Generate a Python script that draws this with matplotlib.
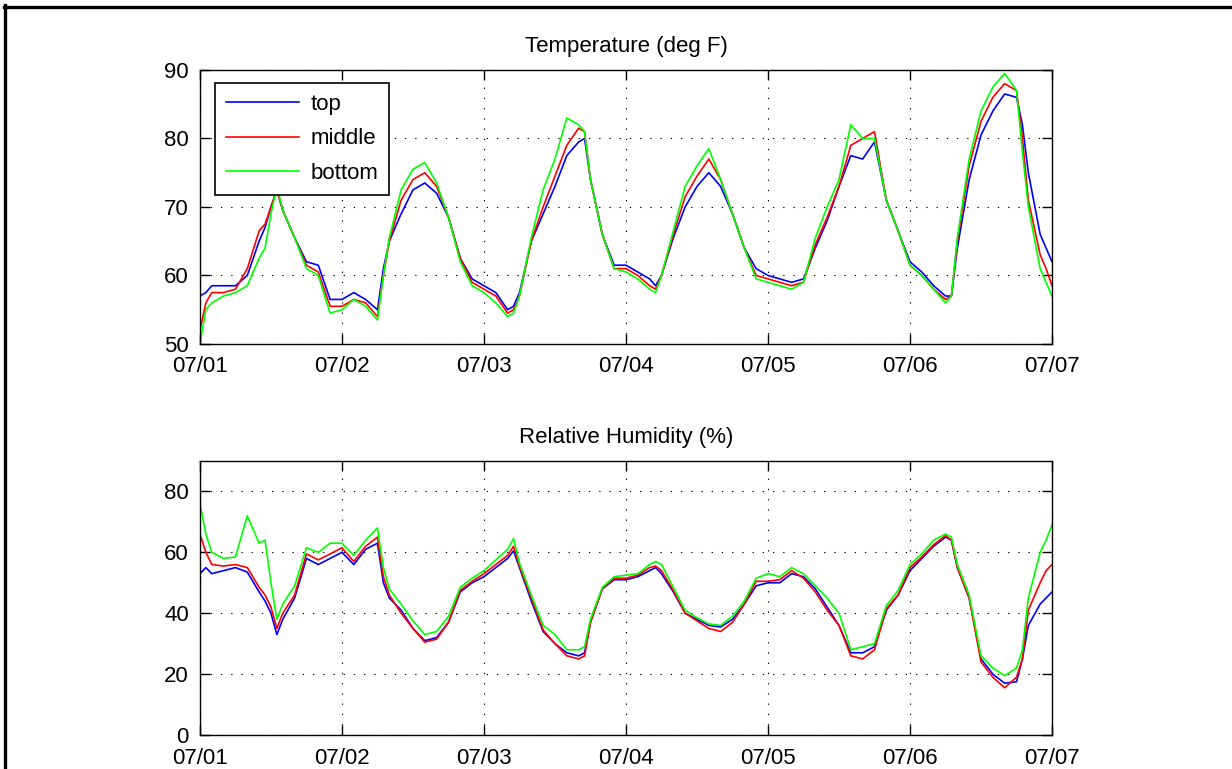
import numpy as np
import matplotlib
matplotlib.use("Agg")
import matplotlib.pyplot as plt
from matplotlib.lines import Line2D

plt.rcParams['font.family'] = ['Liberation Sans', 'DejaVu Sans']

# hours since 07/01 00:00 (shared by every series)
hours = [0, 1, 2, 4, 6, 8, 10, 11, 12, 13, 14, 16, 18, 20, 22,
         24, 26, 28, 30, 31, 32, 34, 36, 38, 40, 42, 44, 46,
         48, 50, 52, 53, 54, 56, 58, 60, 62, 64, 65, 66, 68, 70,
         72, 74, 76, 77, 78, 80, 82, 84, 86, 88, 90, 92, 94,
         96, 98, 100, 102, 104, 106, 108, 110, 112, 114, 116, 118,
         120, 122, 124, 126, 127, 128, 130, 132, 134, 136, 138, 139, 140, 142, 143, 144]

day_labels = ['07/01', '07/02', '07/03', '07/04', '07/05', '07/06', '07/07']
series_names = ['top', 'middle', 'bottom']

# temperature (deg F)
temp_top = [57, 57.5, 58.5, 58.5, 58.5, 60, 65, 67, 70, 72.5, 69.5, 65.5, 62, 61.5, 56.5,
            56.5, 57.5, 56.5, 55, 61, 65, 69, 72.5, 73.5, 72, 68.5, 62.5, 59.5,
            58.5, 57.5, 55, 55.5, 57.5, 65, 69, 73, 77.5, 79.5, 80, 74, 66, 61.5,
            61.5, 60.5, 59.5, 58.5, 60, 65.5, 70, 73, 75, 73, 69, 64, 61,
            60, 59.5, 59, 59.5, 64, 68, 73, 77.5, 77, 79.5, 71, 66.5,
            62, 60.5, 58.5, 57, 57, 64, 74, 80.5, 84, 86.5, 86, 82, 75, 66, 64, 62]
temp_mid = [52, 56, 57.5, 57.5, 58, 61, 66.5, 67.5, 70, 72.5, 69.5, 65.5, 61.5, 60.5, 55.5,
            55.5, 56.5, 56, 54, 60, 65, 71, 74, 75, 73, 68.5, 62.5, 59,
            58, 57, 54.5, 55, 57, 65, 70, 74.5, 79, 81.5, 81, 74, 66, 61,
            61, 60, 58.5, 58, 60, 66, 71.5, 74.5, 77, 74, 69, 64, 60,
            59.5, 59, 58.5, 59, 64.5, 68.5, 73, 79, 80, 81, 71, 66.5,
            61.5, 60, 58, 56.5, 57, 65, 76, 82.5, 86, 88, 87, 80, 71, 63, 61, 58.5]
temp_bot = [50, 55, 56, 57, 57.5, 58.5, 62.5, 64, 69, 73, 69.5, 65.5, 61, 60, 54.5,
            55, 56.5, 55.5, 53.5, 60, 65.5, 72.5, 75.5, 76.5, 73.5, 68.5, 62, 58.5,
            57.5, 56, 54, 54.5, 57, 65.5, 72.5, 77, 83, 82, 81, 74, 66, 61,
            60.5, 59.5, 58, 57.5, 60, 66.5, 73, 76, 78.5, 74, 69, 64, 59.5,
            59, 58.5, 58, 59, 65.5, 70, 74, 82, 80, 80, 71, 66.5,
            61.5, 60, 58, 56, 57, 65.5, 77, 84, 87.5, 89.5, 87, 78, 70, 61, 59, 57]

# relative humidity (%)
rh_top = [53, 55, 53, 54, 55, 53.5, 47, 44, 40, 33, 38, 45, 58, 56, 58,
          60, 56, 61, 63, 50, 45, 41, 35, 31, 32, 37, 47, 50,
          52, 55, 58, 60.5, 55, 44, 34, 30, 27, 26, 27, 37, 48, 51,
          51, 52, 54, 55, 53, 47, 40, 38, 36, 35.5, 38, 43, 49,
          50, 50, 53, 52, 48, 42, 36, 27, 27, 29, 41, 46,
          54, 58, 62, 65, 64, 55, 45, 25, 20, 17, 17.5, 25, 36, 43, 45, 47]
rh_mid = [66, 60, 56, 55.5, 56, 55, 48.5, 46, 42, 35, 40, 46, 59.5, 57.5, 59.5,
          61.5, 57, 62, 65, 52, 46, 40, 35, 30.5, 31.5, 37, 47.5, 50.5,
          53, 56, 59, 62, 55.5, 45, 34.5, 30, 26, 25, 26, 37, 48, 51.5,
          51.5, 52.5, 55, 55.5, 54, 47.5, 40, 37.5, 35, 34, 37, 43, 50.5,
          50.5, 51, 54, 51.5, 47, 41, 36, 26, 25, 28, 41.5, 46,
          55, 58.5, 62.5, 65.5, 64, 55, 45, 24, 19, 15.5, 19, 25, 41, 50, 54, 56]
rh_bot = [76, 66, 60, 58, 58.5, 72, 63, 64, 50, 38, 43, 49, 61.5, 60, 63,
          63, 59, 64, 68, 55, 48, 43, 37.5, 33, 34, 39, 48.5, 51.5,
          54, 57.5, 61, 64.5, 56.5, 46, 36, 33, 28, 28, 29, 38, 48.5, 52,
          52.5, 53, 56, 57, 56, 48.5, 41, 38.5, 36.5, 36, 39, 44, 51.5,
          53, 52, 55, 53, 49, 45, 40, 28, 29, 30, 42.5, 47.5,
          56, 59.5, 64, 66, 65, 56, 46, 26, 22, 19.5, 22, 28, 45, 60, 64, 69]

colors = ['#0000ff', '#ff0000', '#00ff00']

fig = plt.figure(figsize=(12.32, 7.69), dpi=100)
ax1 = fig.add_axes([0.1623, 0.5527, 0.6916, 0.3563])
ax2 = fig.add_axes([0.1623, 0.0442, 0.6916, 0.3563])

days = np.array(hours) / 24.0

for ax, data, title, ylim, yticks in [
        (ax1, [temp_top, temp_mid, temp_bot], 'Temperature (deg F)', (50, 90), [50, 60, 70, 80, 90]),
        (ax2, [rh_top, rh_mid, rh_bot], 'Relative Humidity (%)', (0, 90), [0, 20, 40, 60, 80])]:
    for vals, c, name in zip(data, colors, series_names):
        ax.plot(days, vals, color=c, lw=1.2, label=name)
    ax.set_xlim(0, 6)
    ax.set_ylim(*ylim)
    ax.set_xticks(range(len(day_labels)))
    ax.set_xticklabels(day_labels)
    ax.set_yticks(yticks)
    ax.grid(True, color='black', lw=0.8, linestyle=(0, (1.2, 8)))
    ax.tick_params(direction='in', length=7, width=1.0, top=True, right=True,
                   labelsize=16, colors='black')
    ax.tick_params(axis='x', pad=9)
    ax.tick_params(axis='y', pad=8)
    for s in ax.spines.values():
        s.set_linewidth(1.0)
    ax.set_title(title, fontsize=16, pad=13)

leg = ax1.legend(loc='upper left', bbox_to_anchor=(0.0176, 0.953), borderaxespad=0,
                 fontsize=16, fancybox=False, framealpha=1, edgecolor='black',
                 handlelength=3.3, handletextpad=0.5, labelspacing=0.6, borderpad=0.5)
leg.get_frame().set_linewidth(1.2)

# black frame on top and left edge of the picture
fig.add_artist(Line2D([4 / 1232, 1], [1 - 6.5 / 769, 1 - 6.5 / 769], color='black', lw=2.4,
                      transform=fig.transFigure))
fig.add_artist(Line2D([5 / 1232, 5 / 1232], [0, 1 - 5 / 769], color='black', lw=2.4,
                      transform=fig.transFigure))

fig.savefig('out.png', dpi=100)
